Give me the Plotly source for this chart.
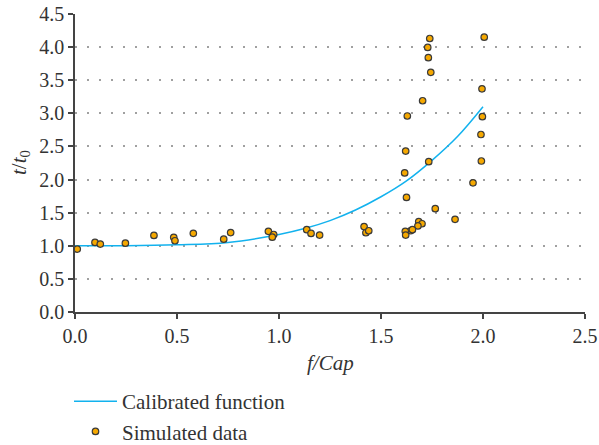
import plotly.graph_objects as go

# Simulated data
sim_x = [0.011, 0.098, 0.124, 0.247, 0.387, 0.484, 0.490, 0.580, 0.729, 0.763,
         0.948, 0.974, 0.967, 1.136, 1.157, 1.199, 1.417, 1.426, 1.440,
         1.739, 2.006, 1.729, 1.732, 1.744, 1.995, 1.704, 1.629, 1.997, 1.990,
         1.621, 1.734, 1.992, 1.616, 1.951, 1.625, 1.766, 1.863, 1.685, 1.701,
         1.681, 1.645, 1.654, 1.619, 1.621]
sim_y = [0.95, 1.05, 1.026, 1.04, 1.157, 1.127, 1.076, 1.188, 1.10, 1.20,
         1.218, 1.17, 1.13, 1.243, 1.187, 1.162, 1.29, 1.197, 1.227,
         4.13, 4.15, 3.995, 3.84, 3.62, 3.37, 3.19, 2.96, 2.95, 2.68,
         2.43, 2.27, 2.28, 2.10, 1.95, 1.73, 1.56, 1.40, 1.364, 1.333,
         1.30, 1.227, 1.243, 1.218, 1.162]

# Calibrated function
cal_x = [0.0, 0.25, 0.5, 0.75, 1.0, 1.125, 1.25, 1.375, 1.5, 1.625, 1.75, 1.875, 2.0]
cal_y = [1.0, 1.0, 1.014, 1.05, 1.17, 1.26, 1.38, 1.54, 1.74, 1.98, 2.29, 2.65, 3.10]

x_ticks = [0.0, 0.5, 1.0, 1.5, 2.0, 2.5]
y_ticks = [0.0, 0.5, 1.0, 1.5, 2.0, 2.5, 3.0, 3.5, 4.0, 4.5]

FONT = "Liberation Serif"
TXT = "#333"

fig = go.Figure()
fig.add_trace(go.Scatter(
    x=cal_x, y=cal_y, mode="lines", name="Calibrated function",
    line=dict(color="#12B2EE", width=1.5, shape="spline"),
))
fig.add_trace(go.Scatter(
    x=sim_x, y=sim_y, mode="markers", name="Simulated data",
    marker=dict(color="#F5A800", size=6.5, line=dict(color="#3a3a3a", width=1.2)),
))

fig.update_layout(
    width=599, height=445,
    margin=dict(l=75, r=14, t=14, b=133, autoexpand=False),
    paper_bgcolor="white", plot_bgcolor="white",
    font=dict(family=FONT, size=16, color=TXT),
    showlegend=True,
    legend=dict(
        xref="container", yref="container",
        x=69 / 599, y=1 - 381 / 445, xanchor="left", yanchor="top",
        font=dict(family=FONT, size=21, color=TXT),
        tracegroupgap=0, itemwidth=43, bgcolor="rgba(0,0,0,0)",
    ),
    xaxis=dict(
        range=[0, 2.5], tickvals=x_ticks, ticktext=[f"{v:.1f}" for v in x_ticks],
        showgrid=False, zeroline=False, automargin=False,
        showline=True, linecolor="#444", linewidth=1.5,
        ticks="outside", ticklen=5, tickcolor="#444", tickwidth=1.5,
        tickfont=dict(family=FONT, size=20, color=TXT),
    ),
    yaxis=dict(
        range=[0, 4.5], tickvals=y_ticks, ticktext=[f"{v:.1f}" for v in y_ticks],
        showgrid=True, gridcolor="#a0a0a0", gridwidth=1.5, griddash="2px,10px",
        zeroline=False, automargin=False,
        showline=True, linecolor="#444", linewidth=1.5,
        ticks="outside", ticklen=5, tickcolor="#444", tickwidth=1.5,
        tickfont=dict(family=FONT, size=20, color=TXT),
    ),
    annotations=[
        dict(text="<i>f/Cap</i>", xref="paper", yref="paper", x=0.5, y=-0.17,
             xanchor="center", yanchor="middle", showarrow=False,
             font=dict(family=FONT, size=21, color=TXT)),
        dict(text="<i>t</i>/<i>t</i><sub>0</sub>", xref="paper", yref="paper",
             x=-55 / 510, y=0.5, xanchor="center", yanchor="middle",
             textangle=-90, showarrow=False,
             font=dict(family=FONT, size=21, color=TXT)),
    ],
)

fig.write_html("out.html")
